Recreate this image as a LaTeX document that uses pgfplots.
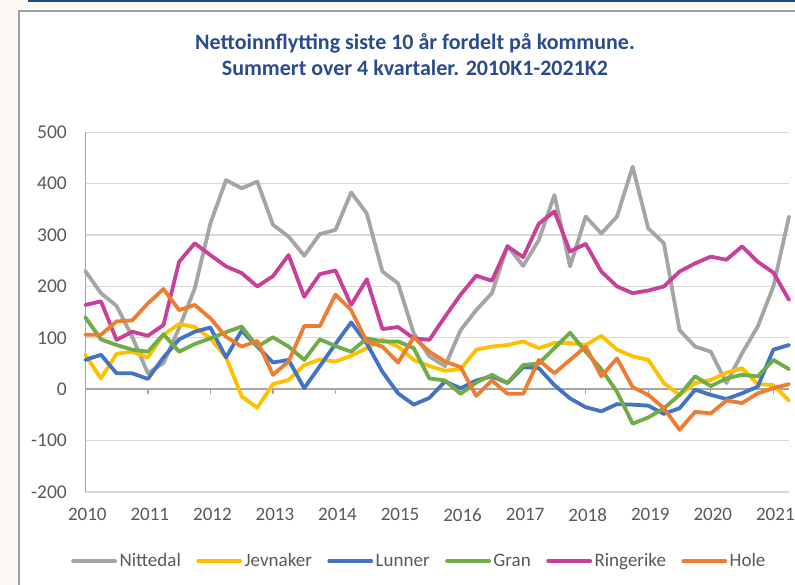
\documentclass[border=0pt]{standalone}
\usepackage{pgfplots}
\pgfplotsset{compat=1.18}
\usepackage{pgfplotstable}
\usepackage{fontspec}
\setmainfont{Carlito}
\definecolor{cNit}{HTML}{A5A5A5}
\definecolor{cJev}{HTML}{FFC000}
\definecolor{cLun}{HTML}{4472C4}
\definecolor{cGra}{HTML}{70AD47}
\definecolor{cRin}{HTML}{C9409A}
\definecolor{cHol}{HTML}{ED7D31}
\definecolor{txt}{HTML}{595959}
\definecolor{ttl}{HTML}{2B4C8C}
\definecolor{bg}{HTML}{FDF8F4}
\definecolor{frame}{HTML}{A0A0A0}
\definecolor{topblue}{HTML}{1F4E79}
\definecolor{gridc}{HTML}{D9D9D9}
\definecolor{zeroc}{HTML}{A6A6A6}

\pgfplotstableread{
x nit jev lun gra rin hol
2010.00 230 67 57 140 164 106
2010.25 187 21 67 97 171 106
2010.50 162 69 31 86 96 132
2010.75 102 73 31 77 112 134
2011.00 31 62 20 73 104 167
2011.25 51 106 62 107 125 195
2011.50 119 127 97 73 248 154
2011.75 196 121 112 88 284 164
2012.00 323 99 120 99 261 138
2012.25 407 62 62 111 239 102
2012.50 391 -14 114 122 226 83
2012.75 404 -36 83 83 200 94
2013.00 320 10 52 101 220 28
2013.25 297 18 57 83 261 54
2013.50 260 47 2 57 180 123
2013.75 302 58 45 97 224 123
2014.00 310 54 88 84 231 184
2014.25 383 65 130 73 164 154
2014.50 342 80 89 99 214 93
2014.75 229 96 34 93 117 83
2015.00 206 83 -8 93 121 52
2015.25 109 57 -30 80 99 101
2015.50 64 45 -17 21 96 73
2015.75 45 36 15 17 141 54
2016.00 115 39 2 -9 184 43
2016.25 154 77 17 13 221 -13
2016.50 187 83 25 28 211 17
2016.75 279 86 12 12 278 -9
2017.00 240 93 43 47 257 -9
2017.25 290 80 41 50 322 57
2017.50 378 90 8 80 346 31
2017.75 239 90 -18 110 268 57
2018.00 336 86 -35 73 283 83
2018.25 303 104 -43 39 229 25
2018.50 336 77 -29 -5 200 60
2018.75 433 64 -30 -67 187 4
2019.00 313 57 -32 -55 192 -11
2019.25 284 12 -48 -37 200 -37
2019.50 115 -11 -37 -11 229 -79
2019.75 83 12 -1 25 245 -44
2020.00 73 18 -11 6 258 -47
2020.25 12 32 -19 21 252 -22
2020.50 70 41 -8 28 278 -27
2020.75 122 10 5 25 248 -8
2021.00 200 8 77 57 227 2
2021.25 336 -22 86 39 174 10
}\datatable

\begin{document}
\begin{tikzpicture}
\clip (0pt,0pt) rectangle (795pt,585pt);
\fill[bg] (0pt,0pt) rectangle (795pt,585pt);
\fill[topblue] (28pt,583.3pt) rectangle (800pt,586pt);
\fill[white] (18.5pt,-10pt) rectangle (800pt,574pt);
\draw[frame, line width=2pt] (18.5pt,-10pt) -- (18.5pt,574pt) -- (800pt,574pt);

\node[font=\bfseries\fontsize{22}{26}\selectfont, text=ttl] at (415pt,542pt) {Nettoinnflytting siste 10 år fordelt på kommune.};
\node[font=\bfseries\fontsize{22}{26}\selectfont, text=ttl] at (415pt,517pt) {Summert over 4 kvartaler. 2010K1-2021K2};

\begin{axis}[
  at={(85.3pt,93pt)}, anchor=south west,
  scale only axis, width=703.7pt, height=359.7pt,
  xmin=2010, xmax=2021.25, ymin=-200, ymax=500,
  xtick={2010,2011,...,2021},
  ytick={-200,-100,...,500},
  axis line style={draw=none},
  major tick length=0pt,
  ymajorgrids,
  grid style={gridc, line width=1.3pt},
  /pgf/number format/assume math mode=true,
  /pgf/number format/1000 sep={},
  xticklabel style={font=\fontsize{19}{22}\selectfont, text=txt, yshift=-13pt, xshift=2pt},
  yticklabel style={font=\fontsize{19.5}{22}\selectfont, text=txt, xshift=-15pt},
  clip=false,
  legend columns=6,
  legend style={at={(0.475,-0.192)}, anchor=center, draw=none, fill=none,
    font=\fontsize{19}{22}\selectfont, text=txt,
    /tikz/every even column/.append style={column sep=13pt},
    nodes={inner sep=2.5pt}},
  legend image code/.code={\draw[#1, line width=3.8pt] (0pt,0pt) -- (42pt,0pt);},
  every axis plot/.append style={line width=3.8pt, line join=round, line cap=round},
]
\draw[zeroc, line width=1.5pt] (axis cs:2010,-200) -- (axis cs:2010,500);
\draw[zeroc, line width=1.5pt] (axis cs:2010,0) -- (axis cs:2021.25,0);
\pgfplotsinvokeforeach{2011,...,2021}{
  \draw[zeroc, line width=1.3pt] (axis cs:#1,0) -- ++(0pt,-5pt);
}
\addplot[cNit] table[x=x,y=nit] {\datatable};
\addlegendentry{Nittedal}
\addplot[cJev] table[x=x,y=jev] {\datatable};
\addlegendentry{Jevnaker}
\addplot[cLun] table[x=x,y=lun] {\datatable};
\addlegendentry{Lunner}
\addplot[cGra] table[x=x,y=gra] {\datatable};
\addlegendentry{Gran}
\addplot[cRin] table[x=x,y=rin] {\datatable};
\addlegendentry{Ringerike}
\addplot[cHol] table[x=x,y=hol] {\datatable};
\addlegendentry{Hole}
\end{axis}
\end{tikzpicture}
\end{document}
